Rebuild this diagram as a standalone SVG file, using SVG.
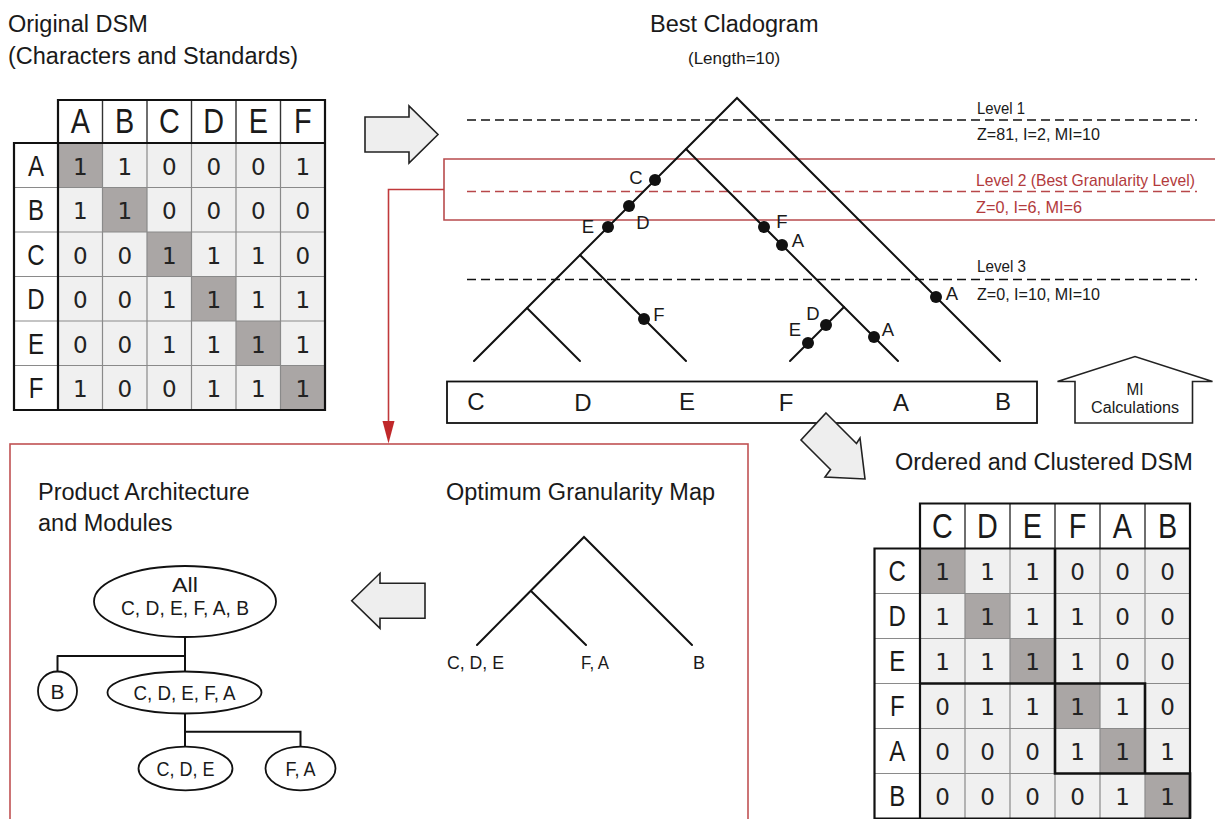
<svg xmlns="http://www.w3.org/2000/svg" width="1215" height="819" viewBox="0 0 1215 819">
  <defs>
    <style>
      .t { font-family: "Liberation Sans", Arial, sans-serif; fill: #1a1a1a; }
      .title { font-size: 23.5px; }
      .lvl { font-size: 17px; }
      .red { fill: #b23a3c; }
      .lbl { font-size: 18.5px; text-anchor: middle; }
      .leaf { font-size: 24px; text-anchor: middle; }
      .node { font-size: 20.5px; text-anchor: middle; }
      .hdr { font-size: 36px; text-anchor: middle; }
      .rowl { font-size: 30px; text-anchor: middle; }
      .dig { font-family: "DejaVu Sans", sans-serif; font-size: 23px; text-anchor: middle; fill: #222; }
      .ln { stroke: #111; stroke-width: 2; fill: none; stroke-linecap: round; }
      .dash { stroke: #111; stroke-width: 1.6; stroke-dasharray: 9 5; fill: none; }
      .rdash { stroke: #b8474a; stroke-width: 1.6; stroke-dasharray: 9 5; fill: none; }
      .rbox { stroke: #b84b4d; stroke-width: 1.6; fill: none; }
      .dot { fill: #111; }
      .cell { fill: #f0f0f0; }
      .diag { fill: #aaa6a5; }
      .gridin { stroke: #8a8a8a; stroke-width: 1.2; fill: none; }
      .gridhd { stroke: #333; stroke-width: 1.4; fill: none; }
      .frame { stroke: #111; stroke-width: 2.2; fill: none; }
      .clus { stroke: #111; stroke-width: 2.6; fill: none; }
      .blk { fill: #eeeeee; stroke: #222; stroke-width: 1.6; stroke-linejoin: miter; }
      .ell { fill: #fff; stroke: #111; stroke-width: 1.8; }
    </style>
  </defs>

  <rect width="1215" height="819" fill="#ffffff"/>

  <!-- ===== Original DSM ===== -->
  <g id="original-dsm">
    <text class="t title" x="8" y="32">Original DSM</text>
    <text class="t title" x="8" y="64">(Characters and Standards)</text>

    <rect x="58" y="100" width="267" height="43" fill="#fff"/>
    <rect x="14" y="143" width="44" height="267" fill="#fff"/>
    <rect class="cell" x="58" y="143" width="267" height="267"/>
    <rect class="diag" x="58" y="143" width="44.5" height="44.5"/>
    <rect class="diag" x="102.5" y="187.5" width="44.5" height="44.5"/>
    <rect class="diag" x="147" y="232" width="44.5" height="44.5"/>
    <rect class="diag" x="191.5" y="276.5" width="44.5" height="44.5"/>
    <rect class="diag" x="236" y="321" width="44.5" height="44.5"/>
    <rect class="diag" x="280.5" y="365.5" width="44.5" height="44.5"/>

    <path class="gridin" d="M102.5,143V410M147,143V410M191.5,143V410M236,143V410M280.5,143V410M14,187.5H325M14,232H325M14,276.5H325M14,321H325M14,365.5H325"/>
    <path class="gridhd" d="M102.5,100V143M147,100V143M191.5,100V143M236,100V143M280.5,100V143"/>
    <path class="frame" d="M58,100H325V410H14V143H58ZM58,143H325M58,143V410"/>

    <g transform="scale(0.8,1)">
      <text class="t hdr" x="100.3" y="133.5">A</text>
      <text class="t hdr" x="155.9" y="133.5">B</text>
      <text class="t hdr" x="211.6" y="133.5">C</text>
      <text class="t hdr" x="267.2" y="133.5">D</text>
      <text class="t hdr" x="322.8" y="133.5">E</text>
      <text class="t hdr" x="378.4" y="133.5">F</text>
      <text class="t rowl" x="45" y="175.8">A</text>
      <text class="t rowl" x="45" y="220.3">B</text>
      <text class="t rowl" x="45" y="264.8">C</text>
      <text class="t rowl" x="45" y="309.3">D</text>
      <text class="t rowl" x="45" y="353.8">E</text>
      <text class="t rowl" x="45" y="398.3">F</text>
    </g>

    <!-- row A -->
    <text class="dig" x="80.25" y="174.5">1</text><text class="dig" x="124.75" y="174.5">1</text><text class="dig" x="169.25" y="174.5">0</text><text class="dig" x="213.75" y="174.5">0</text><text class="dig" x="258.25" y="174.5">0</text><text class="dig" x="302.75" y="174.5">1</text>
    <!-- row B -->
    <text class="dig" x="80.25" y="219">1</text><text class="dig" x="124.75" y="219">1</text><text class="dig" x="169.25" y="219">0</text><text class="dig" x="213.75" y="219">0</text><text class="dig" x="258.25" y="219">0</text><text class="dig" x="302.75" y="219">0</text>
    <!-- row C -->
    <text class="dig" x="80.25" y="263.5">0</text><text class="dig" x="124.75" y="263.5">0</text><text class="dig" x="169.25" y="263.5">1</text><text class="dig" x="213.75" y="263.5">1</text><text class="dig" x="258.25" y="263.5">1</text><text class="dig" x="302.75" y="263.5">0</text>
    <!-- row D -->
    <text class="dig" x="80.25" y="308">0</text><text class="dig" x="124.75" y="308">0</text><text class="dig" x="169.25" y="308">1</text><text class="dig" x="213.75" y="308">1</text><text class="dig" x="258.25" y="308">1</text><text class="dig" x="302.75" y="308">1</text>
    <!-- row E -->
    <text class="dig" x="80.25" y="352.5">0</text><text class="dig" x="124.75" y="352.5">0</text><text class="dig" x="169.25" y="352.5">1</text><text class="dig" x="213.75" y="352.5">1</text><text class="dig" x="258.25" y="352.5">1</text><text class="dig" x="302.75" y="352.5">1</text>
    <!-- row F -->
    <text class="dig" x="80.25" y="397">1</text><text class="dig" x="124.75" y="397">0</text><text class="dig" x="169.25" y="397">0</text><text class="dig" x="213.75" y="397">1</text><text class="dig" x="258.25" y="397">1</text><text class="dig" x="302.75" y="397">1</text>
  </g>

  <!-- block arrow: DSM to cladogram -->
  <polygon id="arrow-right" class="blk" points="365,117 409,117 409,106 438,134.5 409,163 409,152 365,152"/>

  <!-- ===== Best Cladogram ===== -->
  <g id="best-cladogram">
    <text class="t" x="650" y="32" font-size="23.5px">Best Cladogram</text>
    <text class="t" x="688" y="64" font-size="17px">(Length=10)</text>

    <!-- level lines -->
    <line class="dash" x1="467" y1="120" x2="1197" y2="120"/>
    <line class="rdash" x1="467" y1="191.5" x2="1197" y2="191.5"/>
    <line class="dash" x1="467" y1="279.5" x2="1197" y2="279.5"/>
    <path id="best-level-box" class="rbox" d="M1218,159H444V220H1218"/>

    <text class="t lvl" x="977" y="114" textLength="48" lengthAdjust="spacingAndGlyphs">Level 1</text>
    <text class="t lvl" x="977" y="140" textLength="123" lengthAdjust="spacingAndGlyphs">Z=81, I=2, MI=10</text>
    <text class="t lvl red" x="976" y="186" textLength="219" lengthAdjust="spacingAndGlyphs">Level 2 (Best Granularity Level)</text>
    <text class="t lvl red" x="976" y="213" textLength="106" lengthAdjust="spacingAndGlyphs">Z=0, I=6, MI=6</text>
    <text class="t lvl" x="977" y="272" textLength="49" lengthAdjust="spacingAndGlyphs">Level 3</text>
    <text class="t lvl" x="977" y="300" textLength="123" lengthAdjust="spacingAndGlyphs">Z=0, I=10, MI=10</text>

    <!-- branches -->
    <path class="ln" d="M474,361L737,98L1000,361"/>
    <path class="ln" d="M686,149L898,361"/>
    <path class="ln" d="M580,255L686,361"/>
    <path class="ln" d="M527,308L580,361"/>
    <path class="ln" d="M844,307L790,361"/>

    <!-- character changes -->
    <circle class="dot" cx="655" cy="180" r="6"/>
    <circle class="dot" cx="629" cy="206" r="6"/>
    <circle class="dot" cx="608" cy="227" r="6"/>
    <circle class="dot" cx="764" cy="227" r="6"/>
    <circle class="dot" cx="782" cy="245" r="6"/>
    <circle class="dot" cx="644" cy="319" r="6"/>
    <circle class="dot" cx="936" cy="297" r="6"/>
    <circle class="dot" cx="808" cy="343" r="6"/>
    <circle class="dot" cx="826" cy="325" r="6"/>
    <circle class="dot" cx="874" cy="337" r="6"/>

    <text class="t lbl" x="636" y="184">C</text>
    <text class="t lbl" x="643" y="229">D</text>
    <text class="t lbl" x="588" y="233">E</text>
    <text class="t lbl" x="782" y="228">F</text>
    <text class="t lbl" x="798" y="247">A</text>
    <text class="t lbl" x="659" y="321">F</text>
    <text class="t lbl" x="795" y="336">E</text>
    <text class="t lbl" x="813" y="320">D</text>
    <text class="t lbl" x="888" y="336">A</text>
    <text class="t lbl" x="952" y="300">A</text>

    <!-- leaf order -->
    <rect x="447" y="381.5" width="590" height="41.5" fill="#fff" stroke="#111" stroke-width="1.8"/>
    <text class="t leaf" x="476" y="410">C</text>
    <text class="t leaf" x="583" y="411">D</text>
    <text class="t leaf" x="687" y="410">E</text>
    <text class="t leaf" x="786" y="411">F</text>
    <text class="t leaf" x="901" y="411">A</text>
    <text class="t leaf" x="1003" y="410">B</text>
  </g>

  <!-- MI calculations arrow -->
  <g id="mi-calculations">
    <polygon points="1075,423 1075,381.5 1057.5,381.5 1135,356.5 1212.5,381.5 1192.5,381.5 1192.5,423" fill="#fff" stroke="#222" stroke-width="1.6"/>
    <text class="t" x="1135" y="395" font-size="16px" text-anchor="middle" textLength="17" lengthAdjust="spacingAndGlyphs">MI</text>
    <text class="t" x="1135" y="413" font-size="16px" text-anchor="middle" textLength="88" lengthAdjust="spacingAndGlyphs">Calculations</text>
  </g>

  <!-- block arrow: cladogram to ordered DSM -->
  <polygon id="arrow-diag" class="blk" points="826,413 856.5,443.5 860,438 865,479 825,477 830.5,469.5 801,440"/>

  <!-- ===== Ordered and Clustered DSM ===== -->
  <g id="ordered-dsm">
    <text class="t title" x="895" y="470">Ordered and Clustered DSM</text>

    <rect x="920" y="503.5" width="270" height="45" fill="#fff"/>
    <rect x="874.5" y="548.5" width="45.5" height="270" fill="#fff"/>
    <rect class="cell" x="920" y="548.5" width="270" height="270"/>
    <rect class="diag" x="920" y="548.5" width="45" height="45"/>
    <rect class="diag" x="965" y="593.5" width="45" height="45"/>
    <rect class="diag" x="1010" y="638.5" width="45" height="45"/>
    <rect class="diag" x="1055" y="683.5" width="45" height="45"/>
    <rect class="diag" x="1100" y="728.5" width="45" height="45"/>
    <rect class="diag" x="1145" y="773.5" width="45" height="45"/>

    <path class="gridin" d="M965,548.5V818.5M1010,548.5V818.5M1055,548.5V818.5M1100,548.5V818.5M1145,548.5V818.5M874.5,593.5H1190M874.5,638.5H1190M874.5,683.5H1190M874.5,728.5H1190M874.5,773.5H1190"/>
    <path class="gridhd" d="M965,503.5V548.5M1010,503.5V548.5M1055,503.5V548.5M1100,503.5V548.5M1145,503.5V548.5"/>
    <path class="frame" d="M920,503.5H1190V818.5H874.5V548.5H920ZM920,548.5H1190M920,548.5V818.5"/>
    <!-- module clusters -->
    <path class="clus" d="M920,683.5H1055V548.5M1055,683.5H1145V773.5H1055ZM1145,773.5H1190V818.5"/>

    <g transform="scale(0.8,1)">
      <text class="t hdr" x="1178.1" y="538.5">C</text>
      <text class="t hdr" x="1234.4" y="538.5">D</text>
      <text class="t hdr" x="1290.6" y="538.5">E</text>
      <text class="t hdr" x="1346.9" y="538.5">F</text>
      <text class="t hdr" x="1403.1" y="538.5">A</text>
      <text class="t hdr" x="1459.4" y="538.5">B</text>
      <text class="t rowl" x="1121.6" y="581.5">C</text>
      <text class="t rowl" x="1121.6" y="626.5">D</text>
      <text class="t rowl" x="1121.6" y="671.5">E</text>
      <text class="t rowl" x="1121.6" y="716.5">F</text>
      <text class="t rowl" x="1121.6" y="761.5">A</text>
      <text class="t rowl" x="1121.6" y="806.5">B</text>
    </g>

    <!-- row C -->
    <text class="dig" x="942.5" y="580">1</text><text class="dig" x="987.5" y="580">1</text><text class="dig" x="1032.5" y="580">1</text><text class="dig" x="1077.5" y="580">0</text><text class="dig" x="1122.5" y="580">0</text><text class="dig" x="1167.5" y="580">0</text>
    <!-- row D -->
    <text class="dig" x="942.5" y="625">1</text><text class="dig" x="987.5" y="625">1</text><text class="dig" x="1032.5" y="625">1</text><text class="dig" x="1077.5" y="625">1</text><text class="dig" x="1122.5" y="625">0</text><text class="dig" x="1167.5" y="625">0</text>
    <!-- row E -->
    <text class="dig" x="942.5" y="670">1</text><text class="dig" x="987.5" y="670">1</text><text class="dig" x="1032.5" y="670">1</text><text class="dig" x="1077.5" y="670">1</text><text class="dig" x="1122.5" y="670">0</text><text class="dig" x="1167.5" y="670">0</text>
    <!-- row F -->
    <text class="dig" x="942.5" y="715">0</text><text class="dig" x="987.5" y="715">1</text><text class="dig" x="1032.5" y="715">1</text><text class="dig" x="1077.5" y="715">1</text><text class="dig" x="1122.5" y="715">1</text><text class="dig" x="1167.5" y="715">0</text>
    <!-- row A -->
    <text class="dig" x="942.5" y="760">0</text><text class="dig" x="987.5" y="760">0</text><text class="dig" x="1032.5" y="760">0</text><text class="dig" x="1077.5" y="760">1</text><text class="dig" x="1122.5" y="760">1</text><text class="dig" x="1167.5" y="760">1</text>
    <!-- row B -->
    <text class="dig" x="942.5" y="805">0</text><text class="dig" x="987.5" y="805">0</text><text class="dig" x="1032.5" y="805">0</text><text class="dig" x="1077.5" y="805">0</text><text class="dig" x="1122.5" y="805">1</text><text class="dig" x="1167.5" y="805">1</text>
  </g>

  <!-- ===== Result panel ===== -->
  <rect id="result-panel" x="10" y="444" width="738" height="390" fill="none" stroke="#c05253" stroke-width="1.6"/>

  <g id="granularity-map">
    <text class="t" x="446" y="500" font-size="23.5px">Optimum Granularity Map</text>
    <path class="ln" d="M477,645L584,537L692,645M531,591L586,645"/>
    <text class="t" x="447" y="669" font-size="18.5px" textLength="57" lengthAdjust="spacingAndGlyphs">C, D, E</text>
    <text class="t" x="581" y="669" font-size="18.5px" textLength="28" lengthAdjust="spacingAndGlyphs">F, A</text>
    <text class="t" x="693" y="669" font-size="18.5px" textLength="12" lengthAdjust="spacingAndGlyphs">B</text>
  </g>

  <!-- block arrow: map to architecture -->
  <polygon id="arrow-left" class="blk" points="425,583.3 380,583.3 380,573.3 351.7,600.8 380,628.3 380,618.3 425,618.3"/>

  <g id="product-architecture">
    <text class="t title" x="38" y="500">Product Architecture</text>
    <text class="t title" x="38" y="531">and Modules</text>

    <g id="connectors">
      <path class="ln" d="M185,637V671M57.5,656H185M57.5,656V671.5M185,713.5V747M185,731.7H300.5V747"/>
    </g>

    <g id="node-all">
      <ellipse class="ell" cx="185" cy="601.5" rx="91" ry="35.5"/>
      <text class="t node" x="185" y="592" textLength="26" lengthAdjust="spacingAndGlyphs">All</text>
      <text class="t node" x="185" y="614.5" textLength="128" lengthAdjust="spacingAndGlyphs">C, D, E, F, A, B</text>
    </g>
    <g id="node-b">
      <circle class="ell" cx="57.5" cy="691" r="19.5"/>
      <text class="t node" x="57.5" y="698.5" textLength="14" lengthAdjust="spacingAndGlyphs">B</text>
    </g>
    <g id="node-cdefa">
      <ellipse class="ell" cx="184.5" cy="692.5" rx="77" ry="21"/>
      <text class="t node" x="184.5" y="699.5" textLength="102" lengthAdjust="spacingAndGlyphs">C, D, E, F, A</text>
    </g>
    <g id="node-cde">
      <ellipse class="ell" cx="185.5" cy="768.5" rx="47" ry="21.8"/>
      <text class="t node" x="185.5" y="776" textLength="58" lengthAdjust="spacingAndGlyphs">C, D, E</text>
    </g>
    <g id="node-fa">
      <ellipse class="ell" cx="300.5" cy="768.5" rx="35" ry="21.8"/>
      <text class="t node" x="300.5" y="776" textLength="30" lengthAdjust="spacingAndGlyphs">F, A</text>
    </g>
  </g>

  <!-- red link: best granularity level to result panel -->
  <g id="level-link">
    <path d="M444,189.5H388.5V423" fill="none" stroke="#c0393b" stroke-width="1.6"/>
    <polygon points="382.5,421 394.5,421 388.5,443.5" fill="#c0282a"/>
  </g>
</svg>
